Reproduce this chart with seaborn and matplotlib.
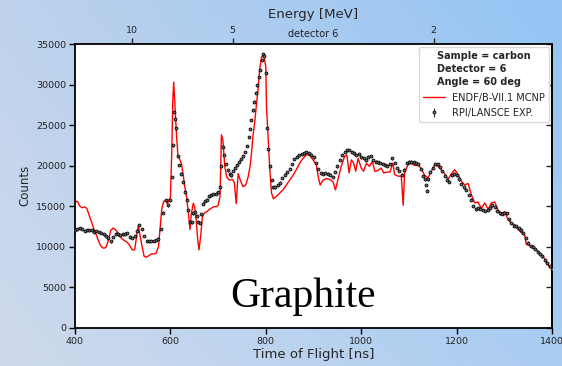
import numpy as np
import matplotlib
matplotlib.use("Agg")
import matplotlib.pyplot as plt
import seaborn as sns

# RPI/LANSCE measurement, detector 6 (time of flight in ns, counts)
exp_tof = [400, 405, 410, 415, 420, 425, 430, 435, 440, 445, 450, 455, 460, 465, 470, 475,
           480, 485, 490, 495, 500, 505, 510, 515, 520, 525, 530, 535, 540, 545, 550, 555,
           560, 565, 570, 575, 580, 585, 590, 595, 600, 604, 606, 608, 610, 612, 615, 618,
           622, 626, 630, 634, 637, 641, 645, 648, 652, 655, 658, 662, 665, 669, 673, 677,
           681, 685, 690, 695, 700, 704, 707, 710, 713, 716, 720, 724, 728, 732, 736, 740,
           744, 748, 752, 756, 760, 764, 767, 770, 773, 776, 779, 782, 785, 788, 791, 794,
           797, 800, 802, 805, 808, 812, 816, 820, 825, 830, 835, 840, 845, 850, 855, 860,
           865, 870, 875, 880, 885, 890, 895, 900, 905, 910, 915, 920, 925, 930, 935, 940,
           945, 950, 955, 960, 965, 970, 975, 980, 985, 990, 995, 1000, 1005, 1010, 1015,
           1020, 1025, 1030, 1035, 1040, 1045, 1050, 1055, 1060, 1065, 1070, 1075, 1080,
           1085, 1090, 1095, 1100, 1105, 1110, 1115, 1120, 1125, 1130, 1133, 1135, 1137,
           1140, 1145, 1150, 1155, 1160, 1165, 1170, 1175, 1180, 1185, 1190, 1195, 1200,
           1205, 1210, 1215, 1220, 1225, 1230, 1235, 1240, 1245, 1250, 1255, 1260, 1265,
           1270, 1275, 1280, 1285, 1290, 1295, 1300, 1305, 1310, 1315, 1320, 1325, 1330,
           1335, 1340, 1345, 1350, 1355, 1360, 1365, 1370, 1375, 1380, 1385, 1390, 1395, 1400]
exp_counts = [12100, 12150, 12300, 12200, 11950, 12050, 12000, 12000, 11850, 11900, 11800,
              11650, 11500, 11300, 11050, 10650, 11200, 11600, 11500, 11450, 11500, 11600,
              11700, 11250, 11050, 11300, 11900, 12650, 12200, 11300, 10700, 10650, 10700,
              10700, 10800, 11000, 12200, 14200, 15700, 15100, 15700, 18600, 22500, 26600,
              25800, 24600, 21200, 20100, 19000, 18000, 16800, 15800, 14500, 13100, 13000,
              14100, 14300, 13800, 13100, 12900, 14000, 15300, 15600, 15800, 16200, 16400,
              16500, 16550, 16700, 17300, 19900, 22300, 21300, 20200, 19400, 19000, 18800,
              19300, 19700, 20100, 20500, 20800, 21200, 21700, 22400, 23500, 24500, 25600,
              26800, 27900, 29000, 29900, 30900, 31800, 33000, 33800, 33500, 31400, 24600,
              22000, 19900, 18200, 17300, 17300, 17600, 17900, 18500, 18900, 19200, 19600,
              20200, 20800, 21100, 21300, 21400, 21500, 21700, 21500, 21300, 21000, 20300,
              19600, 19100, 19000, 19100, 19000, 18900, 18600, 19200, 19900, 20700, 21300,
              21700, 21900, 21900, 21700, 21500, 21300, 21400, 21000, 20900, 20700, 21100,
              21200, 20700, 20500, 20400, 20300, 20200, 20100, 20000, 20200, 20900, 20300,
              19700, 19300, 18900, 19500, 20300, 20500, 20500, 20400, 20300, 20200, 19600,
              18700, 18300, 17600, 16900, 18300, 19200, 19700, 20200, 20200, 19800, 19300,
              18700, 18200, 18000, 18800, 19000, 18800, 18300, 17700, 17300, 17000, 16400,
              15800, 15000, 14600, 14800, 14700, 14500, 14400, 14500, 14800, 15100, 14900,
              14400, 14100, 14000, 14200, 14100, 13400, 12900, 12600, 12500, 12300, 12100,
              11700, 11100, 10500, 10100, 10000, 9700, 9400, 9100, 8800, 8300, 8000, 7600, 7300]
exp_err = 150

# ENDF/B-VII.1 MCNP simulation
mcnp_tof = [400, 405, 410, 415, 420, 425, 430, 435, 440, 445, 450, 455, 460, 465, 470, 475,
            480, 485, 490, 495, 500, 505, 510, 515, 520, 525, 530, 533, 536, 540, 545, 550,
            555, 560, 565, 570, 575, 578, 582, 586, 590, 594, 597, 600, 603, 605, 607, 609,
            611, 613, 616, 620, 623, 627, 630, 634, 638, 641, 644, 648, 651, 654, 657, 660,
            664, 667, 672, 676, 682, 690, 697, 700, 704, 707, 710, 714, 718, 724, 730, 734,
            738, 742, 746, 752, 758, 763, 767, 770, 773, 777, 780, 784, 787, 791, 796, 800,
            801.5, 805, 808, 812, 816, 822, 829, 836, 843, 850, 857, 864, 871, 878, 885, 892,
            899, 906, 910, 914, 920, 927, 934, 941, 946, 951, 958, 965, 970, 974.6, 979.5,
            984, 988.6, 993.5, 1000, 1005, 1011, 1017, 1023.6, 1028.5, 1035, 1042, 1047,
            1054, 1060, 1066.6, 1070, 1077, 1084, 1088, 1091, 1098, 1105, 1112, 1119, 1126,
            1133, 1140, 1147, 1154, 1161, 1168, 1175, 1182, 1189, 1196, 1203, 1210, 1217,
            1224, 1231, 1238, 1245, 1252, 1259, 1266, 1273, 1280, 1287, 1294, 1301, 1308,
            1315, 1322, 1329, 1336, 1343, 1346, 1353, 1360, 1367, 1374, 1381, 1388, 1395, 1400]
mcnp_counts = [15500, 15600, 15000, 14800, 14900, 14700, 13800, 13000, 12100, 11400, 10600,
               10000, 9800, 9900, 10800, 12000, 12300, 12100, 11700, 11200, 10900, 10700,
               10500, 10100, 9600, 9600, 11600, 12600, 11500, 10200, 8800, 8700, 8900, 9100,
               9100, 9200, 10000, 12000, 14700, 15600, 15700, 15300, 15800, 16000, 22000,
               28000, 30300, 28000, 25500, 23500, 21100, 20700, 20300, 18800, 17400, 16100,
               14000, 12100, 14100, 15350, 14900, 13300, 11000, 9600, 11600, 13700, 14200,
               14300, 14600, 14900, 14950, 15100, 16200, 23800, 23200, 19900, 18600, 18200,
               18300, 17900, 15300, 19000, 18300, 17400, 17600, 18600, 19900, 21500, 23600,
               25500, 27300, 29500, 31800, 33400, 33600, 32200, 27300, 23200, 19900, 16600,
               15900, 16200, 16600, 17000, 17600, 18200, 18800, 19500, 20300, 20900, 21300,
               21300, 20700, 20100, 18600, 17600, 18200, 18400, 18300, 18000, 17000, 18200,
               19900, 21100, 21300, 19100, 20700, 20300, 19300, 20900, 19700, 19300, 20300,
               19900, 20500, 19300, 19400, 19700, 19100, 19200, 19200, 20300, 18900, 18700,
               18700, 15100, 19100, 20100, 20300, 20000, 20100, 19600, 18800, 18500, 19300,
               20100, 19900, 19500, 19000, 18300, 19000, 19500, 18900, 18100, 17600, 17800,
               16400, 15400, 15500, 14700, 15400, 14600, 15400, 15500, 14500, 14100, 14300,
               13300, 12900, 12700, 12100, 11700, 11400, 10300, 10100, 10000, 9600, 9100,
               8800, 8200, 7400, 7500]

energy_ticks = [10, 5, 2]          # MeV, top axis
flight_path_m = 22.5               # source-to-detector distance
neutron_mass_mev = 939.565


def tof_from_energy(e_mev):
    gamma = 1.0 + np.asarray(e_mev, dtype=float) / neutron_mass_mev
    beta = np.sqrt(1.0 - 1.0 / gamma ** 2)
    return flight_path_m / 0.299792458 / beta


sns.set_style("ticks")
plt.rcParams["font.family"] = ["DejaVu Sans"]

W, H = 562, 366
fig = plt.figure(figsize=(W / 100, H / 100), dpi=100)
fig.patch.set_alpha(0)

# soft blue backdrop
bg = fig.add_axes([0, 0, 1, 1], zorder=-10)
tl = np.array([190, 210, 236]) / 255
tr = np.array([148, 196, 244]) / 255
bl = np.array([208, 218, 236]) / 255
br = np.array([170, 205, 242]) / 255
u = np.linspace(0, 1, 200)[None, :, None]
v = np.linspace(0, 1, 130)[:, None, None]
grad = (1 - v) * ((1 - u) * tl + u * tr) + v * ((1 - u) * bl + u * br)
bg.imshow(grad, aspect="auto", extent=[0, 1, 0, 1], interpolation="bilinear")
bg.set_axis_off()

ax = fig.add_axes([75 / W, 1 - 327.7 / H, (552 - 75) / W, (327.7 - 44) / H])
ax.set_facecolor("white")

sns.lineplot(x=mcnp_tof, y=mcnp_counts, color="red", lw=1.0, ax=ax,
             estimator=None, sort=False, label="ENDF/B-VII.1 MCNP", zorder=2)
ax.errorbar(exp_tof, exp_counts, yerr=exp_err, fmt="o", ms=2.1, mfc="0.45", mec="k",
            mew=0.6, ecolor="k", elinewidth=0.6, capsize=0, label="RPI/LANSCE EXP.",
            zorder=3)

ax.set_xlim(400, 1400)
ax.set_ylim(0, 35000)
ax.set_xticks([400, 600, 800, 1000, 1200, 1400])
ax.set_yticks(np.arange(0, 35001, 5000))
ax.set_xlabel("Time of Flight [ns]", fontsize=9.5, labelpad=1.5)
ax.set_ylabel("Counts", fontsize=8.5, labelpad=3)
ax.tick_params(axis="both", labelsize=6.8, length=4, width=1, direction="out",
               pad=2.5, colors="k", labelcolor="#222222")
for s in ax.spines.values():
    s.set_linewidth(1.3)
    s.set_color("k")
    s.set_visible(True)

# inward ticks on the right edge
ry = ax.secondary_yaxis("right", functions=(lambda y: y, lambda y: y))
ry.set_yticks(np.arange(0, 35001, 5000))
ry.tick_params(direction="in", length=4, width=1, labelright=False)
ry.spines["right"].set_linewidth(1.3)

# energy scale on top
ax2 = ax.twiny()
ax2.set_xlim(ax.get_xlim())
ax2.set_xticks(tof_from_energy(energy_ticks))
ax2.set_xticklabels([str(e) for e in energy_ticks])
ax2.tick_params(axis="x", labelsize=6.8, length=4, width=1, direction="out", pad=2.5,
                labelcolor="#222222")
ax2.set_xlabel("Energy [MeV]", fontsize=9.5, labelpad=5.5)
for s in ax2.spines.values():
    s.set_visible(False)

ax.text(0.5, 1.0 + 10 / 283.7, "detector 6", transform=ax.transAxes, ha="center",
        va="center", fontsize=7, color="#222222")

leg = ax.legend(loc="upper right", fontsize=7.0, borderaxespad=0.3,
                title="Sample = carbon\nDetector = 6\nAngle = 60 deg",
                title_fontproperties={"weight": "bold", "size": 7.0},
                handlelength=2.2, handletextpad=0.8, labelspacing=0.55,
                frameon=True, framealpha=1.0, edgecolor="0.85", fancybox=True)
leg.get_title().set_linespacing(1.4)
for t in leg.get_texts():
    t.set_color("#222222")

fig.text(303 / W, 1 - 307 / H, "Graphite", family="Liberation Serif", fontsize=30,
         ha="center", va="baseline", color="k")

fig.savefig("out.png", dpi=100)
